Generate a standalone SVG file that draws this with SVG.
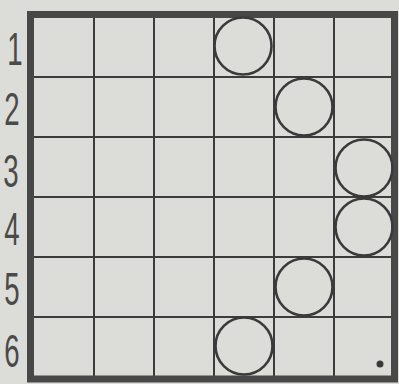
<svg xmlns="http://www.w3.org/2000/svg" width="399" height="384" viewBox="0 0 399 384">
<style>
.grid{stroke:#3c3c3c;stroke-width:2;fill:none}
.border{stroke:#484848;stroke-width:7;fill:none}
.piece{stroke:#3a3a3a;stroke-width:2.6;fill:none}
.lbl{font-family:"Liberation Sans",Arial,sans-serif;font-size:46px;fill:#4a4a4a;text-anchor:middle}
</style>
<rect x="0" y="0" width="399" height="384" fill="#dcdcd8"/>
<g id="grid">
<path class="grid" d="M94,17V377M154,17V377M214,17V377M274,17V377M334,17V377M34,77H392M34,137H392M34,197H392M34,257H392M34,317H392"/>
<rect class="border" x="30.5" y="14.5" width="364" height="364.5"/>
</g>
<g id="labels">
<text class="lbl" transform="translate(15,65) scale(0.6,1)" x="0" y="0">1</text>
<text class="lbl" transform="translate(12,125) scale(0.6,1)" x="0" y="0">2</text>
<text class="lbl" transform="translate(11,187) scale(0.6,1)" x="0" y="0">3</text>
<text class="lbl" transform="translate(12,245) scale(0.6,1)" x="0" y="0">4</text>
<text class="lbl" transform="translate(12,305) scale(0.6,1)" x="0" y="0">5</text>
<text class="lbl" transform="translate(12,367) scale(0.6,1)" x="0" y="0">6</text>
</g>
<g id="pieces">
<circle id="p1" class="piece" cx="243" cy="46" r="28.5"/>
<circle id="p2" class="piece" cx="304" cy="107" r="28.5"/>
<circle id="p3" class="piece" cx="364" cy="168" r="28.5"/>
<circle id="p4" class="piece" cx="364" cy="227" r="28.5"/>
<circle id="p5" class="piece" cx="304" cy="287" r="28.5"/>
<circle id="p6" class="piece" cx="244" cy="346" r="28.5"/>
<circle id="dot" cx="380" cy="364" r="3.5" fill="#3a3a3a"/>
</g>
</svg>
